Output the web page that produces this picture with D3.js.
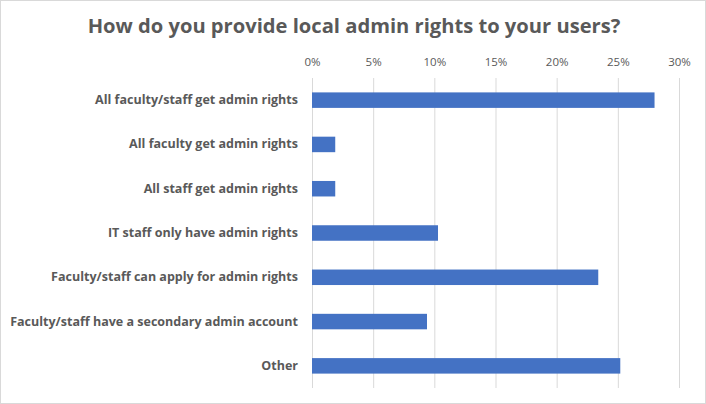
<!DOCTYPE html>
<html><head><meta charset="utf-8">
<script src="https://cdn.jsdelivr.net/npm/d3@7"></script>
<style>body{margin:0;background:#fff}svg{display:block}</style>
</head><body>
<svg id="chart" width="706" height="404"></svg>
<script>
const title = "How do you provide local admin rights to your users?";
const categories = [
  "All faculty/staff get admin rights",
  "All faculty get admin rights",
  "All staff get admin rights",
  "IT staff only have admin rights",
  "Faculty/staff can apply for admin rights",
  "Faculty/staff have a secondary admin account",
  "Other"
];
const values = [0.280, 0.019, 0.019, 0.103, 0.234, 0.094, 0.252];
const tickValues = [0, 0.05, 0.10, 0.15, 0.20, 0.25, 0.30];

const svg = d3.select("#chart");
const W = 706, H = 404;
const font = "'Open Sans', Lato, sans-serif";
const grey = "#595959";

svg.append("rect").attr("x",0.5).attr("y",0.5).attr("width",W-1).attr("height",H-1)
  .attr("fill","#fff").attr("stroke","#d9d9d9");

const t = svg.append("text").attr("x",354).attr("y",33).attr("text-anchor","middle")
  .attr("font-family",font).attr("font-weight","700").attr("font-size",20)
  .attr("fill",grey).text(title);
// fit title width to ~533px
{ const w = t.node().getComputedTextLength(); t.attr("font-size", 20*533/w); }

const x = d3.scaleLinear().domain([0,0.30]).range([312,679]);
const y = d3.scaleBand().domain(categories).range([78,388]).paddingInner(0.65).paddingOuter(0.325);

const gx = svg.append("g").attr("transform","translate(0,78)")
  .call(d3.axisTop(x).tickValues(tickValues).tickFormat(d3.format(".0%")).tickSize(-310).tickPadding(12));
gx.select(".domain").remove();
gx.selectAll(".tick line").attr("stroke","#d9d9d9");
gx.selectAll(".tick text").attr("font-family",font).attr("font-size",11.5).attr("fill",grey);

svg.append("g").selectAll("rect").data(values).join("rect")
  .attr("x",x(0)).attr("y",(d,i)=>y(categories[i]))
  .attr("width",d=>x(d)-x(0)).attr("height",y.bandwidth())
  .attr("fill","#4472c4");

const gy = svg.append("g").attr("transform","translate(312,0)")
  .call(d3.axisLeft(y).tickSize(0).tickPadding(14));
gy.select(".domain").remove();
const labels = gy.selectAll(".tick text").attr("font-family",font).attr("font-weight","700").attr("font-size",12).attr("fill",grey);
// fit longest label to ~288px
{ let mx = 0; labels.each(function(){ mx = Math.max(mx, this.getComputedTextLength()); });
  labels.attr("font-size", 12*288/mx); }
</script>
</body></html>
